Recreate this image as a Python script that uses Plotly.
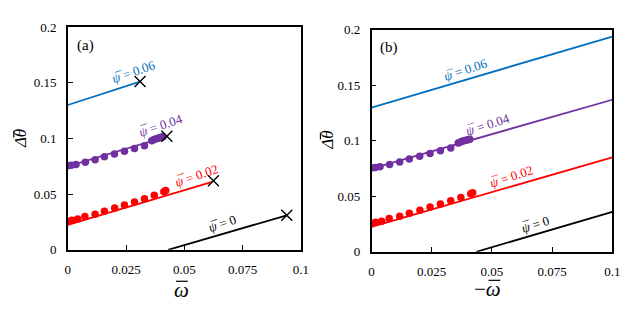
import math
import plotly.graph_objects as go

# ---------------- data ----------------
psi_labels = ["0.06", "0.04", "0.02", "0"]
colors = ["#0070C0", "#7030A0", "#FF0000", "#000000"]

# panel (a): line endpoints (omega, dtheta)
a_lines_x = [[0.0, 0.031], [0.0, 0.042], [0.0, 0.062], [0.043, 0.094]]
a_lines_y = [[0.130, 0.151], [0.075, 0.1015], [0.0225, 0.061], [0.0, 0.031]]
# end crosses
a_cross_x = [0.031, 0.0425, 0.0625, 0.094]
a_cross_y = [0.151, 0.102, 0.062, 0.031]

# panel (b): line endpoints (-omega, dtheta)
b_lines_x = [[0.0, 0.1], [0.0, 0.1], [0.0, 0.1], [0.0435, 0.1]]
b_lines_y = [[0.130, 0.194], [0.075, 0.137], [0.0225, 0.085], [0.0, 0.036]]

# dots (psi = 0.04)
p04_x = [0.0, 0.0015, 0.0035, 0.0075, 0.0117, 0.0157, 0.0200, 0.0243, 0.0286, 0.0329,
         0.0360, 0.0368, 0.0376, 0.0384, 0.0392, 0.0400, 0.0408]
p04_y = [0.0755, 0.0760, 0.0767, 0.0786, 0.0809, 0.0835, 0.0861, 0.0885, 0.0910, 0.0935,
         0.0980, 0.0988, 0.0995, 0.1000, 0.1005, 0.1010, 0.1015]
# dots (psi = 0.02)
p02_x = [0.0, 0.0017, 0.0042, 0.0073, 0.0117, 0.0157, 0.0201, 0.0243, 0.0286, 0.0329,
         0.0371, 0.0412, 0.0420]
p02_y = [0.0256, 0.0266, 0.0276, 0.0300, 0.0320, 0.0347, 0.0375, 0.0403, 0.0430, 0.0459,
         0.0490, 0.0522, 0.0532]

# label positions (data coords)
a_lab_x = [0.0283, 0.0397, 0.0553, 0.0662]
a_lab_y = [0.160, 0.112, 0.067, 0.024]
b_lab_x = [0.0392, 0.0482, 0.0580, 0.0678]
b_lab_y = [0.164, 0.115, 0.068, 0.025]

x_ticks = [0, 0.025, 0.05, 0.075, 0.1]
x_ticktext = ["0", "0.025", "0.05", "0.075", "0.1"]
y_ticks = [0, 0.05, 0.1, 0.15, 0.2]
y_ticktext = ["0", "0.05", "0.1", "0.15", "0.2"]

FONT = "'Liberation Serif', 'Times New Roman', 'DejaVu Serif', serif"
W, H = 638, 315
LAB_SIZE = 13

def px(x):
    return x / W

def py(y):
    return 1 - y / H

fig = go.Figure()

def add_panel(xa, ya, lx, ly, cross):
    for i in range(4):
        fig.add_trace(go.Scatter(x=lx[i], y=ly[i], mode="lines",
                                 line=dict(color=colors[i], width=1.8),
                                 xaxis=xa, yaxis=ya, showlegend=False))
    fig.add_trace(go.Scatter(x=p04_x, y=p04_y, mode="markers",
                             marker=dict(color=colors[1], size=7.5),
                             xaxis=xa, yaxis=ya, showlegend=False))
    fig.add_trace(go.Scatter(x=p02_x, y=p02_y, mode="markers",
                             marker=dict(color=colors[2], size=7.5),
                             xaxis=xa, yaxis=ya, showlegend=False))
    if cross:
        fig.add_trace(go.Scatter(x=a_cross_x, y=a_cross_y, mode="markers",
                                 marker=dict(symbol="x-thin", size=11,
                                             line=dict(color="black", width=1.4)),
                                 xaxis=xa, yaxis=ya, showlegend=False))

add_panel("x", "y", a_lines_x, a_lines_y, True)
add_panel("x2", "y2", b_lines_x, b_lines_y, False)

axis_common = dict(showline=True, linecolor="black", linewidth=1.5, mirror=True,
                   ticks="inside", ticklen=5, tickwidth=1, tickcolor="black",
                   showgrid=False, zeroline=False, ticklabelstandoff=7,
                   tickfont=dict(family=FONT, size=13, color="black"))

fig.update_layout(
    width=W, height=H,
    margin=dict(l=0, r=0, t=0, b=0),
    paper_bgcolor="white", plot_bgcolor="white",
    font=dict(family=FONT),
    xaxis=dict(domain=[px(66), px(303)], range=[0, 0.1], tickvals=x_ticks,
               ticktext=x_ticktext, anchor="y", **axis_common),
    yaxis=dict(domain=[py(255), py(21)], range=[0, 0.2], tickvals=y_ticks,
               ticktext=y_ticktext, anchor="x", **axis_common),
    xaxis2=dict(domain=[px(375), px(620)], range=[0, 0.1], tickvals=x_ticks,
                ticktext=x_ticktext, anchor="y2", **axis_common),
    yaxis2=dict(domain=[py(257), py(24)], range=[0, 0.2], tickvals=y_ticks,
                ticktext=y_ticktext, anchor="x2", **axis_common),
)

def label_with_bar(x, y, xr, yr, val, color, angle):
    """psi label rotated along its line, plus a macron over the psi glyph."""
    out = [dict(x=x, y=y, xref=xr, yref=yr, text=f"<i>ψ</i> = {val}",
                showarrow=False, textangle=-angle, xanchor="center", yanchor="middle",
                font=dict(family=FONT, size=LAB_SIZE, color=color))]
    em = LAB_SIZE
    width = (0.65 + 0.25 + 0.564 + 0.25) * em + sum(0.25 if c == "." else 0.5 for c in val) * em
    s = -width / 2 + 0.65 * em / 2 + 2.5   # psi centre along the text direction
    k = 0.5                                 # vertical adjustment of the macron
    a = math.radians(angle)
    dx, dy = math.cos(a), math.sin(a)
    ux, uy = -math.sin(a), math.cos(a)
    out.append(dict(x=x, y=y, xref=xr, yref=yr, text="¯", showarrow=False,
                    textangle=-angle, xanchor="center", yanchor="middle",
                    xshift=s * dx + k * ux, yshift=s * dy + k * uy,
                    font=dict(family=FONT, size=LAB_SIZE, color=color)))
    return out

ann = []
for i in range(4):
    ann += label_with_bar(a_lab_x[i], a_lab_y[i], "x", "y", psi_labels[i], colors[i], 19)
    ann += label_with_bar(b_lab_x[i], b_lab_y[i], "x2", "y2", psi_labels[i], colors[i], 18)

cm = dict(xref="paper", yref="paper", showarrow=False, xanchor="center", yanchor="middle")
ann += [
    dict(x=px(73), y=py(29), xref="paper", yref="paper", text="(a)", showarrow=False,
         xanchor="left", yanchor="top", font=dict(family=FONT, size=15, color="black")),
    dict(x=px(382), y=py(32), xref="paper", yref="paper", text="(b)", showarrow=False,
         xanchor="left", yanchor="top", font=dict(family=FONT, size=15, color="black")),
    dict(x=px(182), y=py(297), text="<i>ω</i>", **cm,
         font=dict(family=FONT, size=21, color="black")),
    dict(x=px(493), y=py(296), text="−<i>ω</i>", **cm,
         font=dict(family=FONT, size=21, color="black")),
    dict(x=px(18), y=py(138), text="<i>Δθ</i>", textangle=-90, **cm,
         font=dict(family=FONT, size=17, color="black")),
    dict(x=px(330), y=py(140), text="<i>Δθ</i>", textangle=-90, **cm,
         font=dict(family=FONT, size=17, color="black")),
]
fig.update_layout(annotations=ann)

# overbars on axis-title symbols
bar = dict(type="line", xref="paper", yref="paper", line=dict(color="black", width=1.2))
fig.add_shape(**bar, x0=px(176), x1=px(188), y0=py(288), y1=py(288))
fig.add_shape(**bar, x0=px(494), x1=px(506), y0=py(287), y1=py(287))
fig.add_shape(**bar, x0=px(11), x1=px(11), y0=py(130), y1=py(137))
fig.add_shape(**bar, x0=px(323), x1=px(323), y0=py(132), y1=py(139))

fig.write_html("out.html", config={"displayModeBar": False},
               post_script="document.body.style.margin='0';document.body.style.overflow='hidden';")
